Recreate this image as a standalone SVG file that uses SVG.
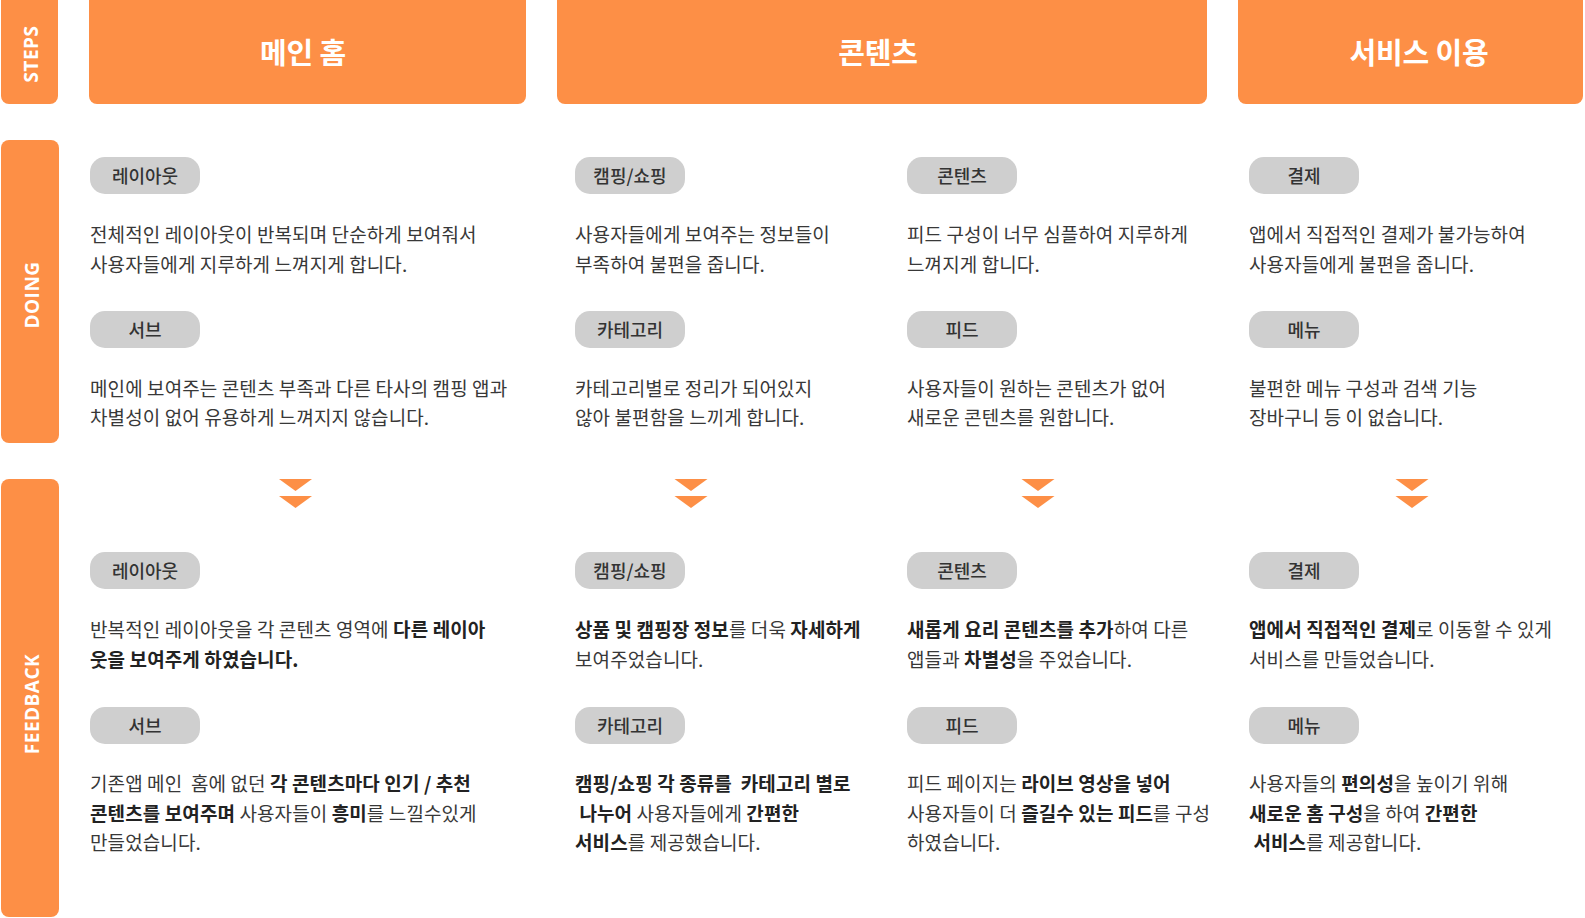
<svg xmlns="http://www.w3.org/2000/svg" width="1585" height="918" viewBox="0 0 1585 918" xml:space="preserve">
<style>
.hdr{fill:#FD8F46}
.hdrt{font-family:"Noto Sans CJK KR","Noto Sans",sans-serif;font-weight:700;font-size:29px;fill:#fff;text-anchor:middle;letter-spacing:-0.2px}
.side{font-family:"Open Sans","Noto Sans",sans-serif;font-weight:700;font-size:19px;fill:#fff;text-anchor:middle;letter-spacing:0.5px}
.pill{fill:#CFCFCF}
.pt{font-family:"Noto Sans CJK KR",sans-serif;font-weight:500;font-size:18px;fill:#333;text-anchor:middle}
.bt{font-family:"Noto Sans CJK KR",sans-serif;font-weight:400;font-size:19px;fill:#383838;letter-spacing:0.1px;white-space:pre}
.b{font-weight:700;fill:#222}
.arr{fill:#FD8F46}
</style>
<defs>
<g id="chev"><polygon points="-16.5,0 16.5,0 0,12"/><polygon points="-16.5,17 16.5,17 0,29"/></g>
</defs>

<!-- side labels -->
<g id="side-steps"><rect class="hdr" x="1" y="-10" width="57" height="114" rx="8"/><text class="side" transform="translate(38,54) rotate(-90)">STEPS</text></g>
<g id="side-doing"><rect class="hdr" x="1" y="140" width="58" height="303" rx="8"/><text class="side" transform="translate(39,295) rotate(-90)">DOING</text></g>
<g id="side-feedback"><rect class="hdr" x="1" y="479" width="58" height="438" rx="8"/><text class="side" transform="translate(39,704) rotate(-90)">FEEDBACK</text></g>

<!-- headers -->
<g id="hdr-main"><rect class="hdr" x="89" y="-10" width="437" height="114" rx="8"/><text class="hdrt" x="303" y="64">메인 홈</text></g>
<g id="hdr-content"><rect class="hdr" x="557" y="-10" width="650" height="114" rx="8"/><text class="hdrt" x="878" y="64">콘텐츠</text></g>
<g id="hdr-service"><rect class="hdr" x="1238" y="-10" width="345" height="114" rx="8"/><text class="hdrt" x="1419" y="64">서비스 이용</text></g>

<!-- DOING column 1 -->
<g id="d1-layout"><rect class="pill" x="90" y="157" width="110" height="37" rx="15"/><text class="pt" x="145" y="183">레이아웃</text>
<text class="bt" x="90" y="242">전체적인 레이아웃이 반복되며 단순하게 보여줘서</text>
<text class="bt" x="90" y="272">사용자들에게 지루하게 느껴지게 합니다.</text></g>
<g id="d1-sub"><rect class="pill" x="90" y="311" width="110" height="37" rx="15"/><text class="pt" x="145" y="337">서브</text>
<text class="bt" x="90" y="396">메인에 보여주는 콘텐츠 부족과 다른 타사의 캠핑 앱과</text>
<text class="bt" x="90" y="425">차별성이 없어 유용하게 느껴지지 않습니다.</text></g>

<!-- DOING column 2 -->
<g id="d2-camp"><rect class="pill" x="575" y="157" width="110" height="37" rx="15"/><text class="pt" x="630" y="183">캠핑/쇼핑</text>
<text class="bt" x="575" y="242">사용자들에게 보여주는 정보들이</text>
<text class="bt" x="575" y="272">부족하여 불편을 줍니다.</text></g>
<g id="d2-cat"><rect class="pill" x="575" y="311" width="110" height="37" rx="15"/><text class="pt" x="630" y="337">카테고리</text>
<text class="bt" x="575" y="396">카테고리별로 정리가 되어있지</text>
<text class="bt" x="575" y="425">않아 불편함을 느끼게 합니다.</text></g>

<!-- DOING column 3 -->
<g id="d3-content"><rect class="pill" x="907" y="157" width="110" height="37" rx="15"/><text class="pt" x="962" y="183">콘텐츠</text>
<text class="bt" x="907" y="242">피드 구성이 너무 심플하여 지루하게</text>
<text class="bt" x="907" y="272">느껴지게 합니다.</text></g>
<g id="d3-feed"><rect class="pill" x="907" y="311" width="110" height="37" rx="15"/><text class="pt" x="962" y="337">피드</text>
<text class="bt" x="907" y="396">사용자들이 원하는 콘텐츠가 없어</text>
<text class="bt" x="907" y="425">새로운 콘텐츠를 원합니다.</text></g>

<!-- DOING column 4 -->
<g id="d4-pay"><rect class="pill" x="1249" y="157" width="110" height="37" rx="15"/><text class="pt" x="1304" y="183">결제</text>
<text class="bt" x="1249" y="242">앱에서 직접적인 결제가 불가능하여</text>
<text class="bt" x="1249" y="272">사용자들에게 불편을 줍니다.</text></g>
<g id="d4-menu"><rect class="pill" x="1249" y="311" width="110" height="37" rx="15"/><text class="pt" x="1304" y="337">메뉴</text>
<text class="bt" x="1249" y="396">불편한 메뉴 구성과 검색 기능</text>
<text class="bt" x="1249" y="425">장바구니 등 이 없습니다.</text></g>

<!-- connectors (arrows) -->
<g id="connectors" class="arr">
<use href="#chev" x="295.5" y="479"/>
<use href="#chev" x="691" y="479"/>
<use href="#chev" x="1038" y="479"/>
<use href="#chev" x="1412" y="479"/>
</g>

<!-- FEEDBACK column 1 -->
<g id="f1-layout"><rect class="pill" x="90" y="552" width="110" height="37" rx="15"/><text class="pt" x="145" y="578">레이아웃</text>
<text class="bt" x="90" y="637">반복적인 레이아웃을 각 콘텐츠 영역에 <tspan class="b">다른 레이아</tspan></text>
<text class="bt" x="90" y="667"><tspan class="b">웃을 보여주게 하였습니다.</tspan></text></g>
<g id="f1-sub"><rect class="pill" x="90" y="707" width="110" height="37" rx="15"/><text class="pt" x="145" y="733">서브</text>
<text class="bt" x="90" y="791">기존앱 메인  홈에 없던 <tspan class="b">각 콘텐츠마다 인기 / 추천</tspan></text>
<text class="bt" x="90" y="821"><tspan class="b">콘텐츠를 보여주며</tspan> 사용자들이 <tspan class="b">흥미</tspan>를 느낄수있게</text>
<text class="bt" x="90" y="850">만들었습니다.</text></g>

<!-- FEEDBACK column 2 -->
<g id="f2-camp"><rect class="pill" x="575" y="552" width="110" height="37" rx="15"/><text class="pt" x="630" y="578">캠핑/쇼핑</text>
<text class="bt" x="575" y="637"><tspan class="b">상품 및 캠핑장 정보</tspan>를 더욱 <tspan class="b">자세하게</tspan></text>
<text class="bt" x="575" y="667">보여주었습니다.</text></g>
<g id="f2-cat"><rect class="pill" x="575" y="707" width="110" height="37" rx="15"/><text class="pt" x="630" y="733">카테고리</text>
<text class="bt" x="575" y="791"><tspan class="b">캠핑/쇼핑 각 종류를  카테고리 별로</tspan></text>
<text class="bt" x="575" y="821"><tspan class="b"> 나누어</tspan> 사용자들에게 <tspan class="b">간편한</tspan></text>
<text class="bt" x="575" y="850"><tspan class="b">서비스</tspan>를 제공했습니다.</text></g>

<!-- FEEDBACK column 3 -->
<g id="f3-content"><rect class="pill" x="907" y="552" width="110" height="37" rx="15"/><text class="pt" x="962" y="578">콘텐츠</text>
<text class="bt" x="907" y="637"><tspan class="b">새롭게 요리 콘텐츠를 추가</tspan>하여 다른</text>
<text class="bt" x="907" y="667">앱들과 <tspan class="b">차별성</tspan>을 주었습니다.</text></g>
<g id="f3-feed"><rect class="pill" x="907" y="707" width="110" height="37" rx="15"/><text class="pt" x="962" y="733">피드</text>
<text class="bt" x="907" y="791">피드 페이지는 <tspan class="b">라이브 영상을 넣어</tspan></text>
<text class="bt" x="907" y="821">사용자들이 더 <tspan class="b">즐길수 있는 피드</tspan>를 구성</text>
<text class="bt" x="907" y="850">하였습니다.</text></g>

<!-- FEEDBACK column 4 -->
<g id="f4-pay"><rect class="pill" x="1249" y="552" width="110" height="37" rx="15"/><text class="pt" x="1304" y="578">결제</text>
<text class="bt" x="1249" y="637"><tspan class="b">앱에서 직접적인 결제</tspan>로 이동할 수 있게</text>
<text class="bt" x="1249" y="667">서비스를 만들었습니다.</text></g>
<g id="f4-menu"><rect class="pill" x="1249" y="707" width="110" height="37" rx="15"/><text class="pt" x="1304" y="733">메뉴</text>
<text class="bt" x="1249" y="791">사용자들의 <tspan class="b">편의성</tspan>을 높이기 위해</text>
<text class="bt" x="1249" y="821"><tspan class="b">새로운 홈 구성</tspan>을 하여 <tspan class="b">간편한</tspan></text>
<text class="bt" x="1249" y="850"><tspan class="b"> 서비스</tspan>를 제공합니다.</text></g>
</svg>
